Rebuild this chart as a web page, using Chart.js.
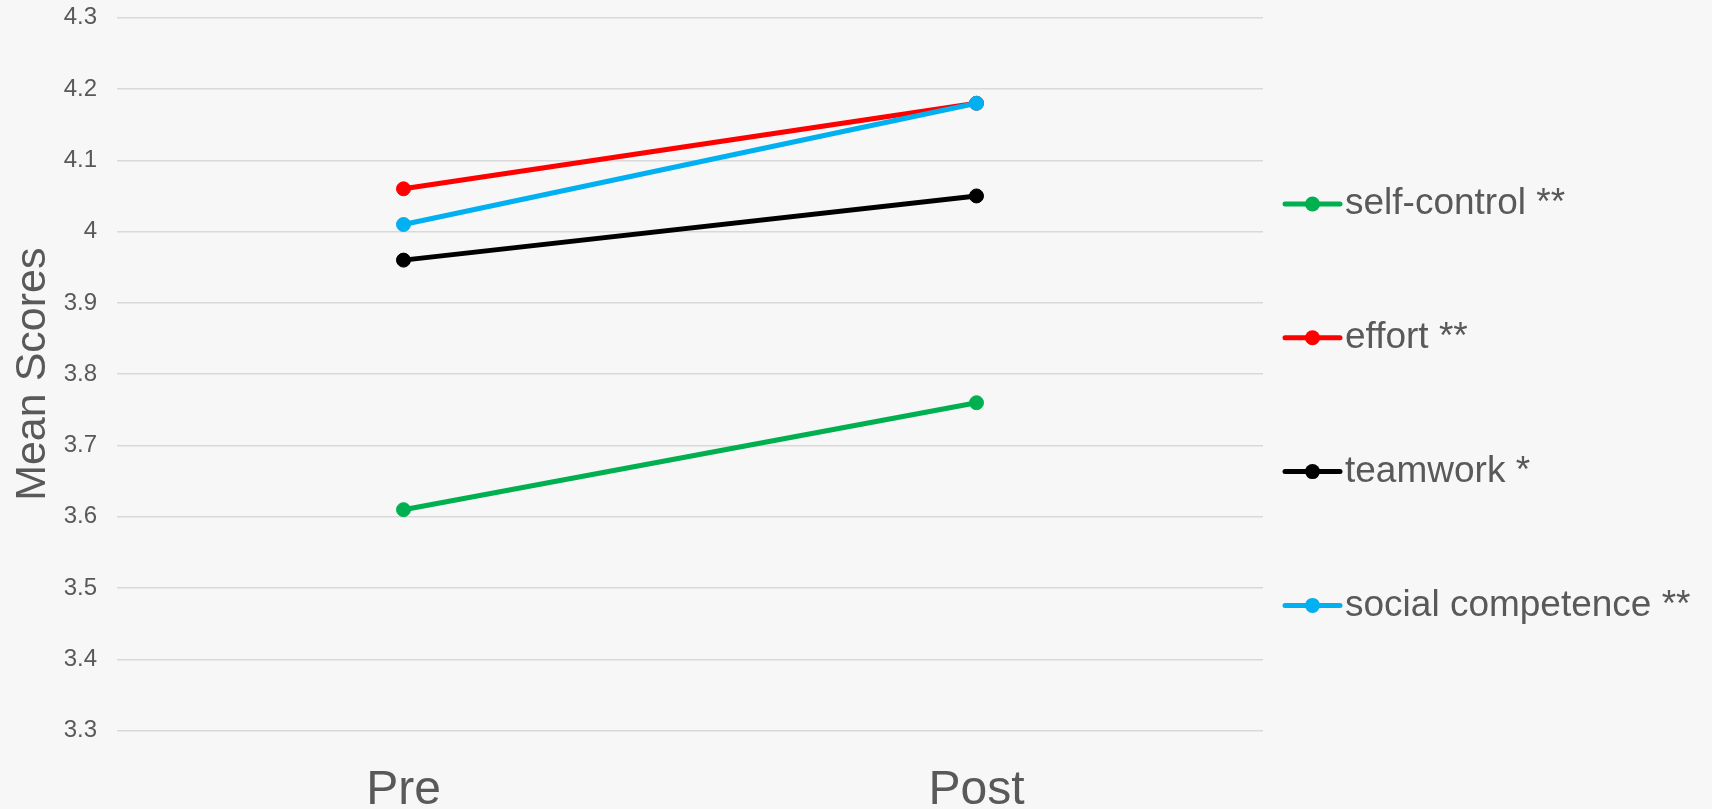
<!DOCTYPE html>
<html>
<head>
<meta charset="utf-8">
<script src="https://cdn.jsdelivr.net/npm/chart.js@4"></script>
<style>
  html, body { margin: 0; padding: 0; background: #f7f7f7; }
  canvas { display: block; }
</style>
</head>
<body>
<canvas id="chart" width="1712" height="809"></canvas>
<script>
// Mean scores before and after the programme
const categories = ['Pre', 'Post'];
const seriesNames = ['self-control **', 'effort **', 'teamwork *', 'social competence **'];
const selfControl = [3.61, 3.76];
const effort = [4.06, 4.18];
const teamwork = [3.96, 4.05];
const socialCompetence = [4.01, 4.18];
const seriesValues = [selfControl, effort, teamwork, socialCompetence];
const seriesColors = ['#00b050', '#ff0000', '#000000', '#00b0f0'];
const yMin = 3.3, yMax = 4.3, yStep = 0.1;
const yTitle = 'Mean Scores';

const textColor = '#595959';
const fontFamily = '"Liberation Sans", Arial, Helvetica, sans-serif';
Chart.defaults.font.family = fontFamily;
Chart.defaults.color = textColor;

// Legend at the right: a short line with a marker, then the series name
const sideLegend = {
  id: 'sideLegend',
  afterDraw(chart) {
    const ctx = chart.ctx;
    const area = chart.chartArea;
    const lineStart = area.right + 22;
    const lineLen = 55;
    const firstY = 204;
    const stepY = 133.8;
    ctx.save();
    ctx.font = '37px ' + fontFamily;
    ctx.textBaseline = 'middle';
    ctx.textAlign = 'left';
    chart.data.datasets.forEach((ds, i) => {
      const y = firstY + i * stepY;
      ctx.strokeStyle = ds.borderColor;
      ctx.lineWidth = 5;
      ctx.lineCap = 'round';
      ctx.beginPath();
      ctx.moveTo(lineStart, y);
      ctx.lineTo(lineStart + lineLen, y);
      ctx.stroke();
      ctx.fillStyle = ds.backgroundColor;
      ctx.beginPath();
      ctx.arc(lineStart + lineLen / 2, y, 7.5, 0, Math.PI * 2);
      ctx.fill();
      ctx.fillStyle = textColor;
      ctx.fillText(ds.label, lineStart + lineLen + 5, y);
    });
    ctx.restore();
  }
};

const datasets = seriesNames.map((name, i) => ({
  label: name,
  data: seriesValues[i],
  borderColor: seriesColors[i],
  backgroundColor: seriesColors[i],
  pointBackgroundColor: seriesColors[i],
  pointBorderColor: seriesColors[i],
  borderWidth: 5,
  pointRadius: 7,
  pointBorderWidth: 1,
  tension: 0,
  order: seriesNames.length - i
}));

new Chart(document.getElementById('chart'), {
  type: 'line',
  data: { labels: categories, datasets },
  plugins: [sideLegend],
  options: {
    responsive: false,
    animation: false,
    devicePixelRatio: 1,
    layout: { padding: { top: 17.7, right: 449, left: 0, bottom: 0 } },
    plugins: {
      legend: { display: false },
      tooltip: { enabled: false }
    },
    scales: {
      x: {
        offset: true,
        grid: { display: false, drawTicks: false },
        border: { display: false },
        ticks: {
          color: textColor,
          font: { size: 48 },
          padding: 31
        },
        afterFit(scale) { scale.height = 78.3; }
      },
      y: {
        min: yMin,
        max: yMax,
        grid: { color: '#d9d9d9', lineWidth: 1.5, drawTicks: false },
        border: { display: false },
        ticks: {
          stepSize: yStep,
          color: textColor,
          font: { size: 24 },
          padding: 20,
          callback: (v) => String(Number(v.toFixed(1)))
        },
        title: {
          display: true,
          text: yTitle,
          color: textColor,
          font: { size: 43 },
          padding: { top: 7, bottom: 0 }
        },
        afterFit(scale) {
          scale.width = 117;
          scale.paddingTop = 0;
          scale.paddingBottom = 0;
        }
      }
    }
  }
});
</script>
</body>
</html>
